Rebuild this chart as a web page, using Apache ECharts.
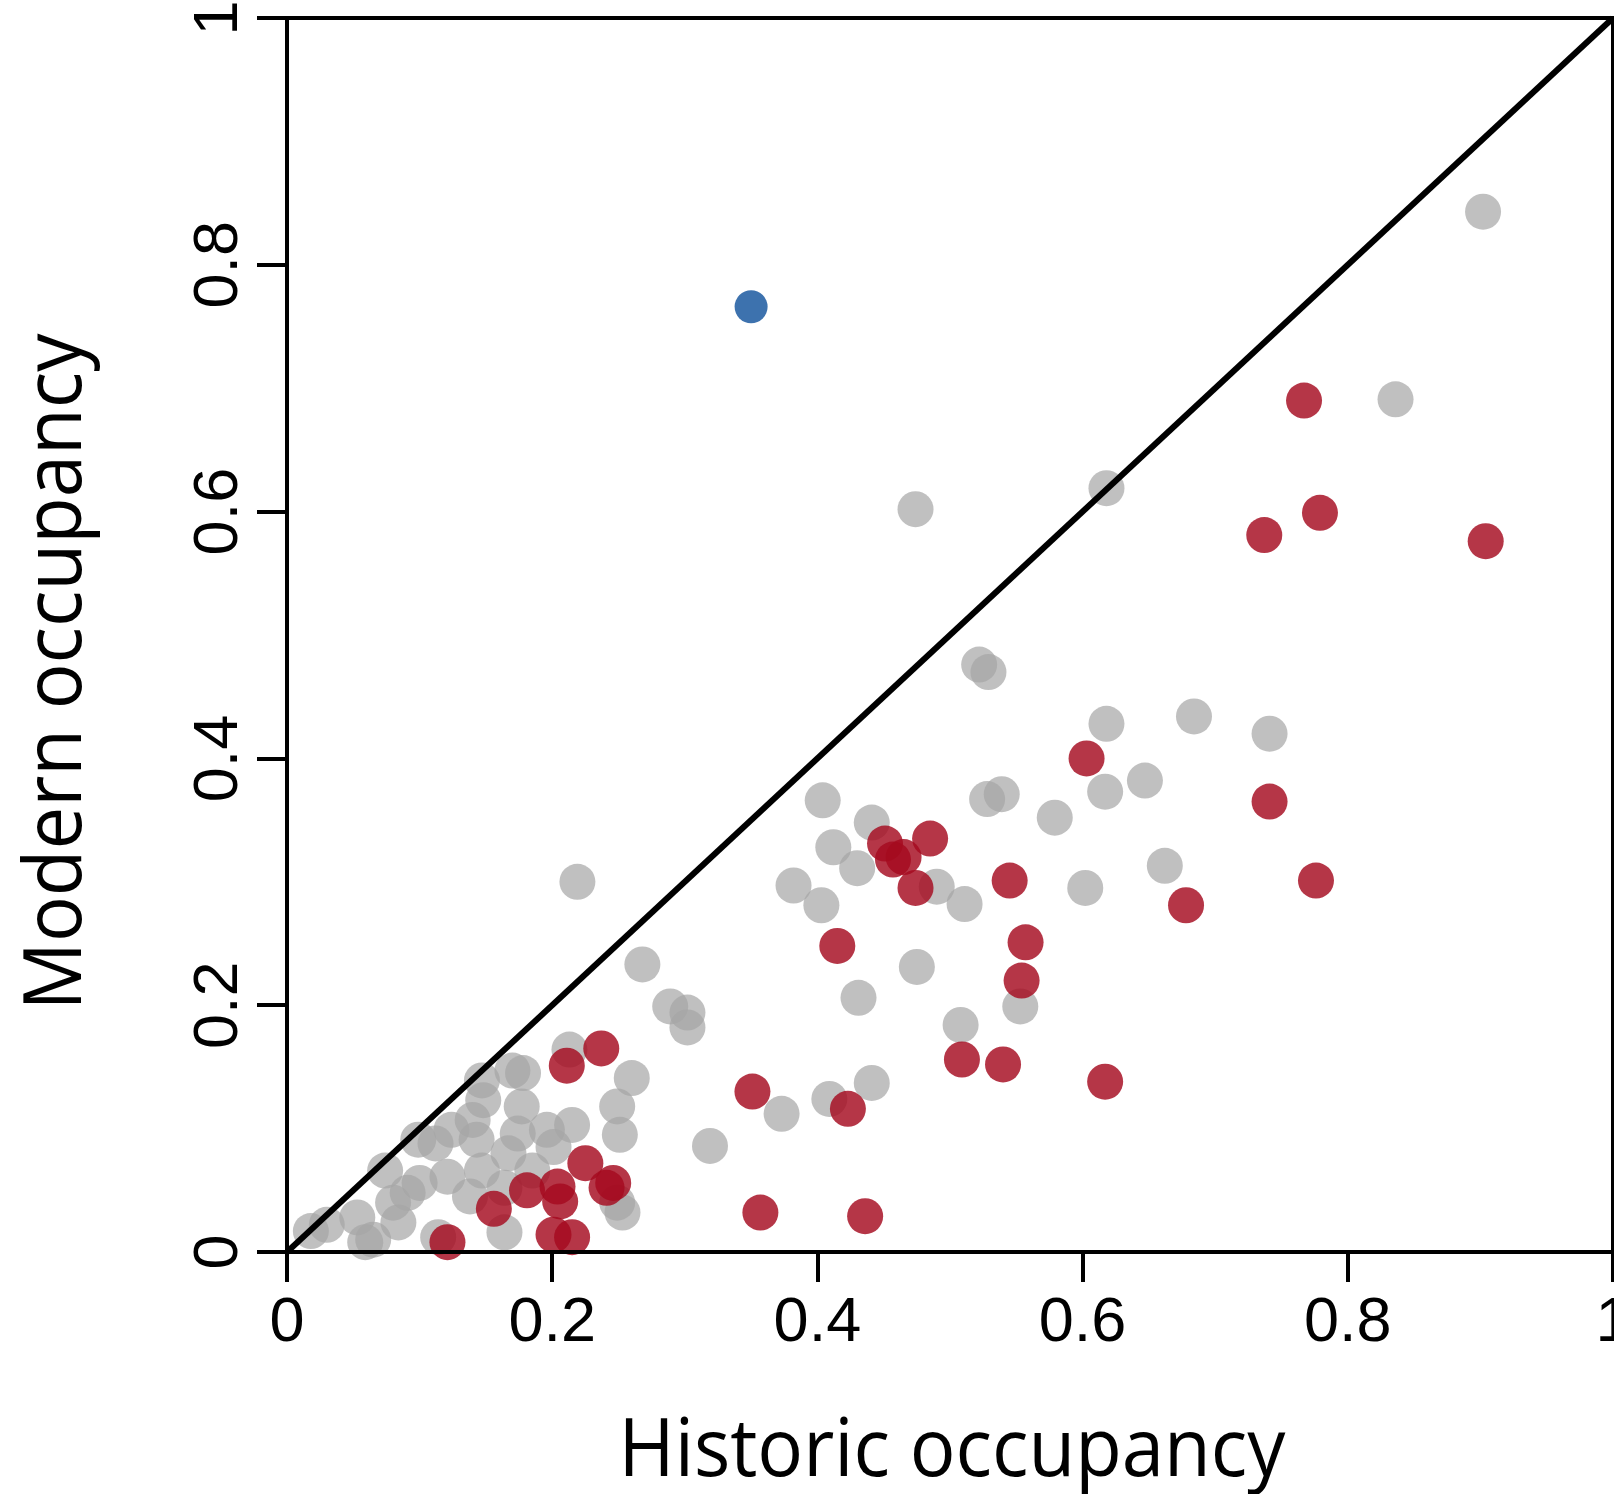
<!DOCTYPE html>
<html>
<head>
<meta charset="utf-8">
<script src="https://cdn.jsdelivr.net/npm/echarts@6/dist/echarts.min.js"></script>
<style>
  html, body { margin: 0; padding: 0; background: #fff; }
  #chart { width: 1614px; height: 1494px; }
</style>
</head>
<body>
<div id="chart"></div>
<script>
// Occupancy per species: [historic, modern]
const stableSpecies = [
  [0.902, 0.843], [0.836, 0.691], [0.618, 0.619], [0.474, 0.602], [0.522, 0.476],
  [0.529, 0.470], [0.618, 0.428], [0.684, 0.434], [0.741, 0.420], [0.647, 0.382],
  [0.617, 0.373], [0.539, 0.371], [0.528, 0.367], [0.579, 0.352], [0.404, 0.366],
  [0.441, 0.348], [0.412, 0.328], [0.430, 0.311], [0.662, 0.313], [0.382, 0.297],
  [0.403, 0.281], [0.490, 0.296], [0.511, 0.282], [0.602, 0.295], [0.219, 0.300],
  [0.475, 0.231], [0.268, 0.233], [0.431, 0.206], [0.289, 0.199], [0.302, 0.194],
  [0.302, 0.182], [0.553, 0.199], [0.508, 0.184], [0.441, 0.137], [0.409, 0.124],
  [0.373, 0.112], [0.319, 0.086], [0.260, 0.141], [0.249, 0.118], [0.251, 0.095],
  [0.253, 0.032], [0.249, 0.040],
  [0.170, 0.147], [0.147, 0.139], [0.148, 0.123], [0.177, 0.118], [0.174, 0.096],
  [0.140, 0.107], [0.124, 0.099], [0.099, 0.091], [0.143, 0.091], [0.167, 0.080],
  [0.147, 0.066], [0.121, 0.061], [0.074, 0.066], [0.091, 0.048], [0.138, 0.045],
  [0.164, 0.052], [0.053, 0.028], [0.030, 0.022], [0.065, 0.010], [0.084, 0.024],
  [0.114, 0.012], [0.164, 0.016], [0.213, 0.164], [0.196, 0.099], [0.215, 0.103],
  [0.201, 0.085], [0.185, 0.066], [0.018, 0.017], [0.059, 0.008], [0.178, 0.145],
  [0.080, 0.040], [0.100, 0.056], [0.112, 0.088]
];

const declinedSpecies = [
  [0.767, 0.690], [0.737, 0.581], [0.779, 0.599], [0.904, 0.576], [0.603, 0.400],
  [0.741, 0.365], [0.776, 0.301], [0.678, 0.281], [0.545, 0.301], [0.557, 0.251],
  [0.554, 0.220], [0.485, 0.335], [0.451, 0.331], [0.465, 0.320], [0.457, 0.318],
  [0.474, 0.295], [0.415, 0.248], [0.509, 0.156], [0.540, 0.152], [0.617, 0.138],
  [0.351, 0.130], [0.423, 0.116], [0.357, 0.032], [0.436, 0.029], [0.237, 0.165],
  [0.211, 0.151], [0.225, 0.072], [0.246, 0.056], [0.241, 0.052], [0.204, 0.053],
  [0.206, 0.041], [0.181, 0.050], [0.156, 0.035], [0.121, 0.008], [0.201, 0.014],
  [0.215, 0.012]
];

const increasedSpecies = [
  [0.350, 0.766]
];

// 1:1 reference line (no change in occupancy)
const parityLine = [[0, 0], [1, 1]];

const axisMin = 0;
const axisMax = 1;
const tickStep = 0.2;

const chart = echarts.init(document.getElementById('chart'), null, { renderer: 'canvas' });

const axisCommon = {
  type: 'value',
  min: axisMin,
  max: axisMax,
  interval: tickStep,
  splitLine: { show: false },
  axisLine: { show: true, onZero: false, lineStyle: { color: '#000', width: 4 } },
  axisTick: { show: true, length: 30, lineStyle: { color: '#000', width: 4 } },
  z: 10
};

chart.setOption({
  animation: false,
  backgroundColor: '#fff',
  grid: {
    left: 287, top: 18, width: 1326, height: 1234,
    containLabel: false, outerBoundsMode: 'none',
    show: true, borderColor: '#000', borderWidth: 4, backgroundColor: 'transparent'
  },
  xAxis: Object.assign({}, axisCommon, {
    axisLabel: {
      color: '#000', fontFamily: '"Liberation Sans", Arial, sans-serif',
      fontSize: 63, margin: 40
    }
  }),
  yAxis: Object.assign({}, axisCommon, {
    axisLabel: {
      color: '#000', fontFamily: '"Liberation Sans", Arial, sans-serif',
      fontSize: 63, margin: 36, rotate: 90
    }
  }),
  graphic: [
    {
      type: 'text', x: 952, y: 1453, scaleX: 0.94,
      style: {
        text: 'Historic occupancy', fill: '#000',
        font: '81px "Open Sans", "Noto Sans", sans-serif',
        textAlign: 'center', textVerticalAlign: 'middle'
      }
    },
    {
      type: 'text', x: 58, y: 672, rotation: Math.PI / 2, scaleX: 0.94,
      style: {
        text: 'Modern occupancy', fill: '#000',
        font: '81px "Open Sans", "Noto Sans", sans-serif',
        textAlign: 'center', textVerticalAlign: 'middle'
      }
    }
  ],
  series: [
    {
      name: 'stable', type: 'scatter', data: stableSpecies,
      symbol: 'circle', symbolSize: 36,
      itemStyle: { color: 'rgba(165,165,165,0.7)', opacity: 1 }, z: 2
    },
    {
      name: 'declined', type: 'scatter', data: declinedSpecies,
      symbol: 'circle', symbolSize: 36,
      itemStyle: { color: 'rgba(165,10,30,0.82)', opacity: 1 }, z: 3
    },
    {
      name: 'increased', type: 'scatter', data: increasedSpecies,
      symbol: 'circle', symbolSize: 33,
      itemStyle: { color: '#3d72ae', opacity: 1 }, z: 4
    },
    {
      name: 'parity', type: 'line', data: parityLine,
      symbol: 'none', silent: true,
      lineStyle: { color: '#000', width: 6 }, z: 5
    }
  ]
});
</script>
</body>
</html>
